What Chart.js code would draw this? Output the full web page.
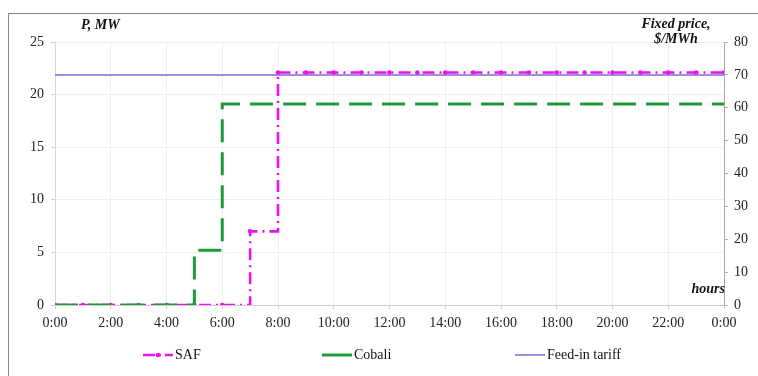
<!DOCTYPE html>
<html>
<head>
<meta charset="utf-8">
<script src="https://cdn.jsdelivr.net/npm/chart.js@4/dist/chart.umd.min.js"></script>
<style>
  html, body { margin: 0; padding: 0; background: #fff; overflow: hidden; }
  #wrap { position: relative; width: 758px; height: 376px; }
  #frame { position: absolute; left: 8px; top: 13px; width: 820px; height: 420px;
           border-left: 1px solid #8a8a8a; border-top: 1px solid #8a8a8a; }
  canvas { position: absolute; left: 0; top: 0; }
  .lbl { position: absolute; font-family: "Liberation Serif", serif; font-weight: bold;
         font-style: italic; font-size: 14px; color: #111; white-space: nowrap; line-height: 15px; }
  #legend { position: absolute; top: 346px; left: 0; width: 758px; height: 20px;
            font-family: "Liberation Serif", serif; font-size: 14px; color: #111; }
  .item { position: absolute; top: 0; height: 18px; display: flex; align-items: center; }
  .item svg { margin-right: 2px; }
</style>
</head>
<body>
<div id="wrap">
  <div id="frame"></div>
  <canvas id="chart" width="758" height="376"></canvas>
  <div class="lbl" style="left:81px; top:17px;">P, MW</div>
  <div class="lbl" style="left:626px; top:16px; width:100px; text-align:center;">Fixed price,<br>$/MWh</div>
  <div class="lbl" style="left:676px; top:281px; width:49px; text-align:right;">hours</div>
  <div id="legend"></div>
</div>
<script>
// Hour of day for every sample (24 = midnight of the next day)
const hours = [0,1,2,3,4,5,6,7,8,9,10,11,12,13,14,15,16,17,18,19,20,21,22,23,24];

// Power output, MW
const safValues = [0,0,0,0,0,0,0,7,
  22.1,22.1,22.1,22.1,22.1,22.1,22.1,22.1,22.1,22.1,22.1,22.1,22.1,22.1,22.1,22.1,22.1];
const cobaliValues = [0,0,0,0,0,5.2,
  19.1,19.1,19.1,19.1,19.1,19.1,19.1,19.1,19.1,19.1,19.1,19.1,19.1,19.1,19.1,19.1,19.1,19.1,19.1];

// Fixed price, $/MWh
const tariffValues = [70,70,70,70,70,70,70,70,70,70,70,70,70,70,70,70,70,70,70,70,70,70,70,70,70];

const seriesNames = ['SAF', 'Cobali', 'Feed-in tariff'];

const toPoints = vals => hours.map((h, i) => ({ x: h, y: vals[i] }));

const tickFont = { family: 'Liberation Serif', size: 14 };

const safDash = [12, 5, 2, 5];

const datasets = [
  {
    label: seriesNames[0], data: toPoints(safValues), yAxisID: 'y', order: 1,
    borderColor: '#ee11ee', backgroundColor: '#ee11ee', borderWidth: 2.6,
    borderDash: safDash, stepped: true,
    pointRadius: 2.3, pointBorderWidth: 0, pointBackgroundColor: '#ee11ee'
  },
  {
    label: seriesNames[1], data: toPoints(cobaliValues), yAxisID: 'y', order: 0,
    borderColor: '#1f9a3a', backgroundColor: '#1f9a3a', borderWidth: 3,
    borderDash: [23, 10], stepped: true, pointRadius: 0
  },
  {
    label: seriesNames[2], data: toPoints(tariffValues), yAxisID: 'y2', order: 2,
    borderColor: '#7b6ad6', backgroundColor: '#7b6ad6', borderWidth: 1.5,
    pointRadius: 0
  }
];

new Chart(document.getElementById('chart'), {
  type: 'line',
  data: { datasets },
  options: {
    responsive: false,
    animation: false,
    layout: { padding: { top: 42, bottom: 0, left: 0, right: 0 } },
    plugins: { legend: { display: false }, tooltip: { enabled: false } },
    scales: {
      x: {
        type: 'linear', min: 0, max: 24,
        ticks: { stepSize: 2, font: tickFont, color: '#222', padding: 6,
                 callback: v => (v % 24) + ':00', maxRotation: 0 },
        grid: { color: '#efefef', tickLength: 4, tickColor: '#d0d0d0' },
        border: { color: '#cfcfcf' },
        afterFit: s => { s.height = 71; }
      },
      y: {
        position: 'left', min: 0, max: 25,
        ticks: { stepSize: 5, font: tickFont, color: '#222', padding: 7 },
        grid: { color: '#efefef', tickLength: 4, tickColor: '#d0d0d0' },
        border: { color: '#d8d8d8' },
        afterFit: s => { s.width = 55; }
      },
      y2: {
        position: 'right', min: 0, max: 80,
        ticks: { stepSize: 10, font: tickFont, color: '#222', padding: 6 },
        grid: { drawOnChartArea: false, tickLength: 4, tickColor: '#b0b0b0' },
        border: { color: '#a8a8a8' },
        afterFit: s => { s.width = 34; }
      }
    }
  }
});

// Legend built from the dataset styles (Cobali and the tariff show a solid sample)
const legendX = [143, 322, 515];
const legend = document.getElementById('legend');
datasets.forEach((ds, i) => {
  const item = document.createElement('div');
  item.className = 'item';
  item.style.left = legendX[i] + 'px';
  const dashAttr = i === 0 ? 'stroke-dasharray="12,4,2,4"' : '';
  let svg = `<svg width="30" height="18"><line x1="0" y1="9" x2="30" y2="9" stroke="${ds.borderColor}"
    stroke-width="${ds.borderWidth}" ${dashAttr}/>`;
  if (ds.pointRadius) svg += `<circle cx="15" cy="9" r="${ds.pointRadius}" fill="${ds.pointBackgroundColor}"/>`;
  svg += '</svg>';
  item.innerHTML = svg + `<span>${ds.label}</span>`;
  legend.appendChild(item);
});
</script>
</body>
</html>
